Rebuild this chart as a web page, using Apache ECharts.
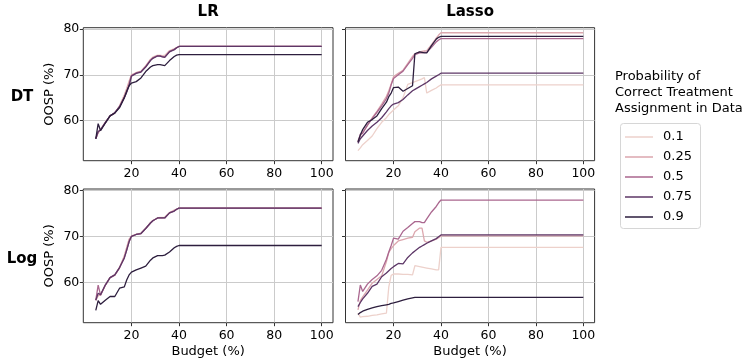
<!DOCTYPE html>
<html><head><meta charset="utf-8">
<script src="https://cdn.jsdelivr.net/npm/echarts@6/dist/echarts.min.js"></script>
<style>html,body{margin:0;padding:0;background:#fff}#c{width:748px;height:364px}</style>
</head><body><div id="c"></div>
<script>
const budget = [5,6,7,9,11,13,15,17,18,19,20,22,24,26,28,29,31,32,33,34,36,38,39,40,100];
const probs = ['0.1','0.25','0.5','0.75','0.9'];
const colTitles = ['LR','Lasso'];
const rowTitles = ['DT','Log'];
const xTicks = [20,40,60,80,100];
const yTicks = [60,70,80];

// DT row, LR column
const dtLR_01 = [56.0,57.2,58.0,59.6,61.0,61.7,63.1,65.2,66.5,68.0,69.9,70.5,70.8,72.0,73.4,73.9,74.3,74.3,74.2,74.3,75.3,75.7,76.0,76.2,76.2];
const dtLR_025 = [56.0,57.4,58.0,59.5,61.0,61.6,63.2,65.6,67.0,68.6,70.0,70.4,70.7,71.9,73.3,73.7,74.2,74.1,74.0,74.0,75.2,75.6,75.9,76.2,76.2];
const dtLR_05 = [56.0,57.5,58.0,59.6,61.0,61.7,63.0,65.0,66.3,67.8,69.8,70.4,70.7,71.8,73.2,73.7,74.2,74.2,74.0,73.9,75.1,75.5,75.9,76.2,76.2];
const dtLR_075 = [56.0,57.6,57.9,59.5,61.0,61.7,63.0,65.0,66.2,67.6,69.7,70.3,70.6,71.7,73.1,73.6,74.1,74.1,73.9,73.8,75.0,75.5,75.9,76.2,76.2];
const dtLR_09 = [56.0,59.3,57.8,59.4,61.0,61.6,62.8,65.0,66.4,67.6,68.2,68.5,69.3,70.7,71.7,72.0,72.2,72.2,72.1,72.0,73.1,74.0,74.3,74.4,74.4];

// DT row, Lasso column
const dtLasso_01 = [53.4,54.0,54.7,55.6,56.6,58.2,59.6,60.6,61.3,61.8,62.3,63.2,65.0,67.9,68.3,68.5,68.9,69.1,69.4,66.0,66.6,67.1,67.5,67.8,67.8];
const dtLasso_025 = [55.6,56.6,57.4,58.9,60.6,62.0,63.6,65.3,66.5,68.0,69.6,70.3,71.0,72.5,74.0,74.6,75.0,75.1,75.2,75.3,76.6,78.0,78.7,79.2,79.2];
const dtLasso_05 = [55.3,57.0,57.2,59.0,60.4,61.8,63.2,64.8,66.0,67.8,69.2,70.0,70.8,72.2,73.6,74.4,74.8,74.8,74.9,74.9,76.0,77.2,77.6,77.9,77.9];
const dtLasso_075 = [55.0,56.0,56.6,57.8,58.8,59.6,60.6,61.9,62.6,63.2,63.6,63.9,64.6,65.6,66.5,66.8,67.4,67.7,68.0,68.3,69.1,69.7,70.0,70.35,70.35];
const dtLasso_09 = [55.3,56.8,58.0,59.6,60.2,61.0,62.6,64.0,65.2,66.0,67.2,67.3,66.4,67.0,67.6,74.6,75.0,74.9,74.8,74.8,76.4,77.8,78.2,78.4,78.4];

// Log row, LR column
const logLR_01 = [56.1,57.0,57.3,59.4,61.0,61.6,63.3,65.6,67.4,69.2,70.1,70.5,70.7,71.8,73.0,73.5,74.0,74.1,74.1,74.2,75.2,75.6,75.9,76.15,76.15];
const logLR_025 = [56.1,57.2,57.2,59.3,61.0,61.5,63.1,65.8,67.6,69.4,70.0,70.4,70.6,71.7,72.9,73.4,74.0,74.0,74.0,74.1,75.1,75.7,75.9,76.15,76.15];
const logLR_05 = [56.1,59.4,57.2,59.4,61.0,61.6,63.2,65.3,67.0,68.8,70.0,70.4,70.6,71.7,72.9,73.4,74.0,74.0,74.0,74.0,75.1,75.5,75.9,76.15,76.15];
const logLR_075 = [56.1,57.6,57.3,59.4,61.0,61.6,63.2,65.3,67.0,68.8,70.0,70.4,70.6,71.7,72.9,73.4,74.0,74.0,74.0,74.0,75.1,75.5,75.9,76.15,76.15];
const logLR_09 = [53.9,56.0,55.2,56.1,56.9,56.9,58.7,59.0,60.5,61.6,62.2,62.7,63.1,63.5,64.8,65.3,65.8,65.8,65.8,65.9,66.6,67.5,67.8,68.0,68.0];

// Log row, Lasso column
const logLasso_01 = [53.3,52.4,52.5,52.6,52.8,52.9,53.1,53.3,59.0,61.5,61.8,61.8,61.7,61.7,61.6,63.6,63.4,63.3,63.2,63.1,62.9,62.7,62.7,67.6,67.6];
const logLasso_025 = [54.0,56.0,56.8,58.3,59.8,60.6,61.4,64.5,66.5,67.3,68.0,69.0,69.3,69.6,69.8,71.0,71.8,71.8,69.0,68.7,69.0,69.4,69.7,70.1,70.1];
const logLasso_05 = [55.8,59.4,58.0,59.6,60.6,61.4,62.6,65.0,66.6,68.0,69.6,69.4,71.1,71.9,72.8,73.2,73.2,73.0,73.0,73.8,75.3,76.5,77.3,77.9,77.9];
const logLasso_075 = [54.7,55.6,56.4,57.6,59.1,59.6,61.2,62.0,62.5,63.0,63.4,64.1,64.0,65.4,66.4,66.8,67.6,67.9,68.2,68.5,69.0,69.5,69.9,70.3,70.3];
const logLasso_09 = [53.0,53.4,53.7,54.1,54.4,54.7,54.9,55.1,55.2,55.4,55.5,55.8,56.1,56.4,56.6,56.7,56.7,56.7,56.7,56.7,56.7,56.7,56.7,56.7,56.7];

const panels = [
  [dtLR_01, dtLR_025, dtLR_05, dtLR_075, dtLR_09],
  [dtLasso_01, dtLasso_025, dtLasso_05, dtLasso_075, dtLasso_09],
  [logLR_01, logLR_025, logLR_05, logLR_075, logLR_09],
  [logLasso_01, logLasso_025, logLasso_05, logLasso_075, logLasso_09]
];

const colors = ['#edd1cb','#dca7ae','#aa678f','#5d3767','#2d1e3e'];
const FONT = 'DejaVu Sans';
const gridPos = [
  {left:83.3, top:27.7, width:249.7, height:133},
  {left:345.5, top:27.7, width:249.1, height:133},
  {left:83.3, top:189, width:249.7, height:133.7},
  {left:345.5, top:189, width:249.1, height:133.7}
];

const grids = gridPos.map(g => Object.assign({show:true, borderColor:'#333', borderWidth:1, backgroundColor:'transparent'}, g));
const xAxes = gridPos.map((g,i) => ({
  type:'value', gridIndex:i, min:-0.25, max:104.75,
  name: i>=2 ? 'Budget (%)' : '', nameLocation:'middle', nameGap:22,
  nameTextStyle:{fontFamily:FONT, fontSize:13, color:'#000'},
  axisLine:{show:false, onZero:false},
  axisTick:{show:true, length:3.5, customValues:xTicks, lineStyle:{color:'#333', width:1}},
  axisLabel:{customValues:xTicks, fontFamily:FONT, fontSize:12.5, color:'#000', margin:7},
  splitLine:{show:true, lineStyle:{color:'#cbcbcb', width:1}}
}));
const yAxes = gridPos.map((g,i) => ({
  type:'value', gridIndex:i, min:51.2, max:80.3,
  name: (i%2===0) ? 'OOSP (%)' : '', nameLocation:'middle', nameGap:27, nameRotate:90,
  nameTextStyle:{fontFamily:FONT, fontSize:13, color:'#000'},
  axisLine:{show:false, onZero:false},
  axisTick:{show:true, length:3.5, customValues:yTicks, lineStyle:{color:'#333', width:1}},
  axisLabel:{show:(i%2===0), customValues:yTicks, fontFamily:FONT, fontSize:12.5, color:'#000', margin:4},
  splitLine:{show:true, lineStyle:{color:'#cbcbcb', width:1}}
}));

const series = [];
panels.forEach((arrs, p) => {
  arrs.forEach((vals, k) => {
    series.push({
      type:'line', name:probs[k], xAxisIndex:p, yAxisIndex:p,
      data: budget.map((x,j) => [x, vals[j]]),
      symbol:'none', showSymbol:false,
      lineStyle:{color:colors[k], width:1.3}, itemStyle:{color:colors[k]},
      emphasis:{disabled:true}, z:2+k
    });
  });
});

const graphics = [];
colTitles.forEach((t,i) => {
  graphics.push({type:'text', style:{text:t, x: gridPos[i].left + gridPos[i].width/2, y:12, align:'center', verticalAlign:'middle', font:'bold 15px "DejaVu Sans"', fill:'#000'}});
});
rowTitles.forEach((t,i) => {
  const g = gridPos[i*2];
  graphics.push({type:'text', style:{text:t, x: 22, y: g.top + g.height/2 + 3, align:'center', verticalAlign:'middle', font:'bold 15px "DejaVu Sans"', fill:'#000'}});
});
graphics.push({type:'text', style:{text:'Probability of\nCorrect Treatment\nAssignment in Data', x:615, y:69, align:'left', verticalAlign:'top', font:'13px "DejaVu Sans"', lineHeight:16, fill:'#000'}});
graphics.push({type:'rect', z:-1, shape:{x:620.5, y:123.5, width:80, height:105, r:3}, style:{fill:'#fff', stroke:'#d6d6d6', lineWidth:1}});

const lineIcon = 'path://M0,0L0.01,0L0,0.01Z M56,28L55.99,28L56,27.99Z M0,12.7H56V15.3H0Z';

const chart = echarts.init(document.getElementById('c'), null, {renderer:'canvas'});
chart.setOption({
  animation:false,
  backgroundColor:'#fff',
  grid: grids, xAxis: xAxes, yAxis: yAxes, series: series,
  legend:{
    data: probs.map(p => ({name:p, icon:lineIcon})), orient:'vertical', left:620, top:125,
    itemWidth:28, itemHeight:14, itemGap:6,
    padding:[5,10,4,5],
    borderWidth:0, z:10,
    textStyle:{fontFamily:FONT, fontSize:13, color:'#000', padding:[0,0,0,5]},
    selectedMode:false
  },
  graphic: graphics
});
</script></body></html>
